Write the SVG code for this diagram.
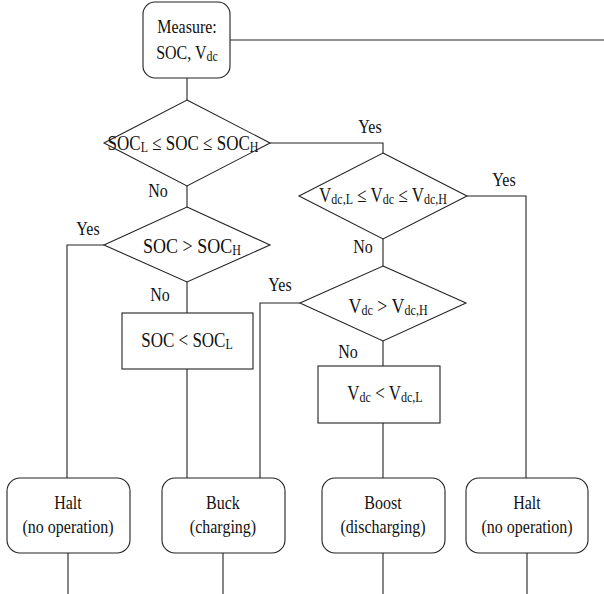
<svg xmlns="http://www.w3.org/2000/svg" width="604" height="594" viewBox="0 0 604 594">
<style>
.s{fill:#fff;stroke:#222;stroke-width:1.1}
.c{fill:none;stroke:#222;stroke-width:1.1}
text{font-family:"Liberation Serif","Times New Roman",serif;fill:#111;text-anchor:middle}
.l{font-size:16px}
.k{font-size:18px}
.t{font-size:17px}
.sub{font-size:12px}
</style>
<rect width="604" height="594" fill="#fff"/>
<g id="connectors">
<path class="c" d="M187,78V100"/>
<path class="c" d="M230,40H604"/>
<path class="c" d="M270,143H383V153"/>
<path class="c" d="M187,186V207"/>
<path class="c" d="M104,245H67V478"/>
<path class="c" d="M187,282V313"/>
<path class="c" d="M187,369V478"/>
<path class="c" d="M467,196H526V478"/>
<path class="c" d="M383,239V266"/>
<path class="c" d="M300,303H260V478"/>
<path class="c" d="M383,341V366"/>
<path class="c" d="M383,423V478"/>
<path class="c" d="M68,553V594M223,553V594M383,553V594M527,553V594"/>
<text class="l" transform="translate(370,133) scale(1,1.2)">Yes</text>
<text class="l" transform="translate(504,186) scale(1,1.2)">Yes</text>
<text class="l" transform="translate(88,235) scale(1,1.2)">Yes</text>
<text class="l" transform="translate(280,291) scale(1,1.2)">Yes</text>
<text class="l" transform="translate(158,197) scale(1,1.2)">No</text>
<text class="l" transform="translate(160,301) scale(1,1.2)">No</text>
<text class="l" transform="translate(363,253) scale(1,1.2)">No</text>
<text class="l" transform="translate(348,358) scale(1,1.2)">No</text>
</g>
<g id="measure">
<rect class="s" x="143" y="2" width="87" height="76" rx="12"/>
<text class="l" transform="translate(187,33) scale(1,1.2)">Measure:</text>
<text class="l" transform="translate(187,59) scale(1,1.2)">SOC, V<tspan class="sub" dy="2">dc</tspan></text>
</g>
<g id="d1">
<path class="s" d="M187,100L270,143L187,186L104,143Z"/>
<text class="t" transform="translate(183,150) scale(1,1.2)">SOC<tspan class="sub" dy="2">L</tspan><tspan dy="-2"> ≤ SOC ≤ SOC</tspan><tspan class="sub" dy="2">H</tspan></text>
</g>
<g id="d2">
<path class="s" d="M383,153L467,196L383,239L299,196Z"/>
<text class="t" transform="translate(383,202) scale(1,1.2)">V<tspan class="sub" dy="2">dc,L</tspan><tspan dy="-2"> ≤ V</tspan><tspan class="sub" dy="2">dc</tspan><tspan dy="-2"> ≤ V</tspan><tspan class="sub" dy="2">dc,H</tspan></text>
</g>
<g id="d3">
<path class="s" d="M187,207L270,245L187,282L104,245Z"/>
<text class="k" transform="translate(192,253) scale(1,1.2)">SOC &gt; SOC<tspan class="sub" dy="2">H</tspan></text>
</g>
<g id="r1">
<rect class="s" x="122" y="313" width="131" height="56"/>
<text class="t" transform="translate(187,347) scale(1,1.2)">SOC &lt; SOC<tspan class="sub" dy="2">L</tspan></text>
</g>
<g id="d4">
<path class="s" d="M383,266L466,303L383,341L300,303Z"/>
<text class="k" transform="translate(388,313) scale(1,1.2)">V<tspan class="sub" dy="2">dc</tspan><tspan dy="-2"> &gt; V</tspan><tspan class="sub" dy="2">dc,H</tspan></text>
</g>
<g id="r2">
<rect class="s" x="318" y="366" width="122" height="57"/>
<text class="t" transform="translate(385,400) scale(1,1.2)">V<tspan class="sub" dy="2">dc</tspan><tspan dy="-2"> &lt; V</tspan><tspan class="sub" dy="2">dc,L</tspan></text>
</g>
<g id="halt1">
<rect class="s" x="7" y="478" width="123" height="75" rx="13"/>
<text class="l" transform="translate(68,509) scale(1,1.2)">Halt</text>
<text class="l" transform="translate(68,533) scale(1,1.2)">(no operation)</text>
</g>
<g id="buck">
<rect class="s" x="162" y="478" width="123" height="75" rx="13"/>
<text class="l" transform="translate(223,509) scale(1,1.2)">Buck</text>
<text class="l" transform="translate(223,533) scale(1,1.2)">(charging)</text>
</g>
<g id="boost">
<rect class="s" x="322" y="478" width="123" height="75" rx="13"/>
<text class="l" transform="translate(383,509) scale(1,1.2)">Boost</text>
<text class="l" transform="translate(383,533) scale(1,1.2)">(discharging)</text>
</g>
<g id="halt2">
<rect class="s" x="466" y="478" width="122" height="75" rx="13"/>
<text class="l" transform="translate(527,509) scale(1,1.2)">Halt</text>
<text class="l" transform="translate(527,533) scale(1,1.2)">(no operation)</text>
</g>
</svg>
